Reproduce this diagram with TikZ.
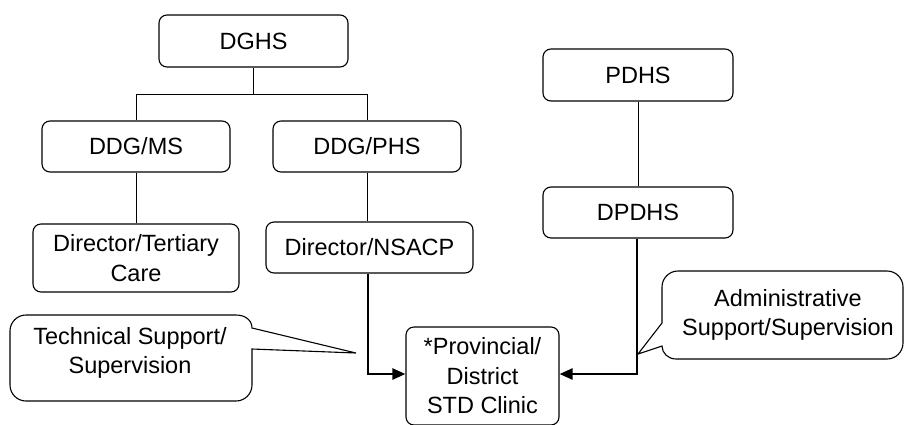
\documentclass[tikz,border=0pt]{standalone}
\usepackage{fontspec}
\setmainfont{Liberation Sans}
\usetikzlibrary{arrows.meta}
\begin{document}
\begin{tikzpicture}[x=1pt,y=-1pt,
  orgbox/.style={draw, rounded corners=8pt, line width=1.1pt, inner sep=0pt,
    align=center, font=\fontsize{23.5}{29.5}\selectfont},
  thinline/.style={line width=1pt},
  thickarrow/.style={line width=2.4pt, -{Triangle[length=13pt,width=11pt]}},
  calloutline/.style={line width=1.1pt},
  callouttext/.style={align=center, inner sep=0pt, font=\fontsize{23.5}{29.5}\selectfont}]
\useasboundingbox (0,0) rectangle (905,424);
% boxes
\node[orgbox, minimum width=189pt, minimum height=52pt] (dghs) at (253.5,41) {DGHS};
\node[orgbox, minimum width=188pt, minimum height=51pt] (ddgms) at (136,146.5) {DDG/MS};
\node[orgbox, minimum width=188pt, minimum height=51pt] (ddgphs) at (367,146.5) {DDG/PHS};
\node[orgbox, minimum width=206pt, minimum height=68pt] (tert) at (136,258) {Director/Tertiary\\Care};
\node[orgbox, minimum width=207pt, minimum height=51pt] (nsacp) at (369.5,247.5) {Director/NSACP};
\node[orgbox, minimum width=153pt, minimum height=98pt] (clinic) at (482.5,376) {*Provincial/\\District\\STD Clinic};
\node[orgbox, minimum width=190pt, minimum height=52pt] (pdhs) at (638,75) {PDHS};
\node[orgbox, minimum width=190pt, minimum height=51pt] (dpdhs) at (638,212.5) {DPDHS};
% tree connectors
\coordinate (j) at (253.5,94);
\draw[thinline] (dghs.south) -- (j);
\draw[thinline] (ddgms.north |- j) -- (ddgphs.north |- j);
\draw[thinline] (ddgms.north |- j) -- (ddgms.north);
\draw[thinline] (ddgphs.north |- j) -- (ddgphs.north);
\draw[thinline] (ddgms.south) -- (ddgms.south |- tert.north);
\draw[thinline] (ddgphs.south) -- (ddgphs.south |- nsacp.north);
\draw[thinline] (pdhs.south) -- (pdhs.south |- dpdhs.north);
% thick arrows
\draw[thickarrow] ([xshift=-1.5pt]nsacp.south) |- ([yshift=2pt]clinic.west);
\draw[thickarrow] ([xshift=-1pt]dpdhs.south) |- ([yshift=2pt]clinic.east);
% callouts
\draw[calloutline] (10,331) .. controls (10,322.2) and (17.2,315) .. (26,315)
  -- (236,315) .. controls (245,315) and (252,320) .. (252,328)
  -- (356,353) -- (252,349) -- (252,385)
  .. controls (252,393.8) and (244.8,401) .. (236,401)
  -- (26,401) .. controls (17.2,401) and (10,393.8) .. (10,385) -- cycle;
\node[callouttext] (tech) at (130,353) {Technical Support/\\Supervision};
\draw[calloutline] (662,323) -- (662,287) .. controls (662,278.2) and (669.2,271) .. (678,271)
  -- (887,271) .. controls (895.8,271) and (903,278.2) .. (903,287)
  -- (903,343) .. controls (903,351.8) and (895.8,359) .. (887,359)
  -- (676,359) .. controls (668,359) and (662,353) .. (662,346)
  -- (638,354) -- cycle;
\node[callouttext] (admin) at (788,315) {Administrative\\Support/Supervision};
\end{tikzpicture}
\end{document}
